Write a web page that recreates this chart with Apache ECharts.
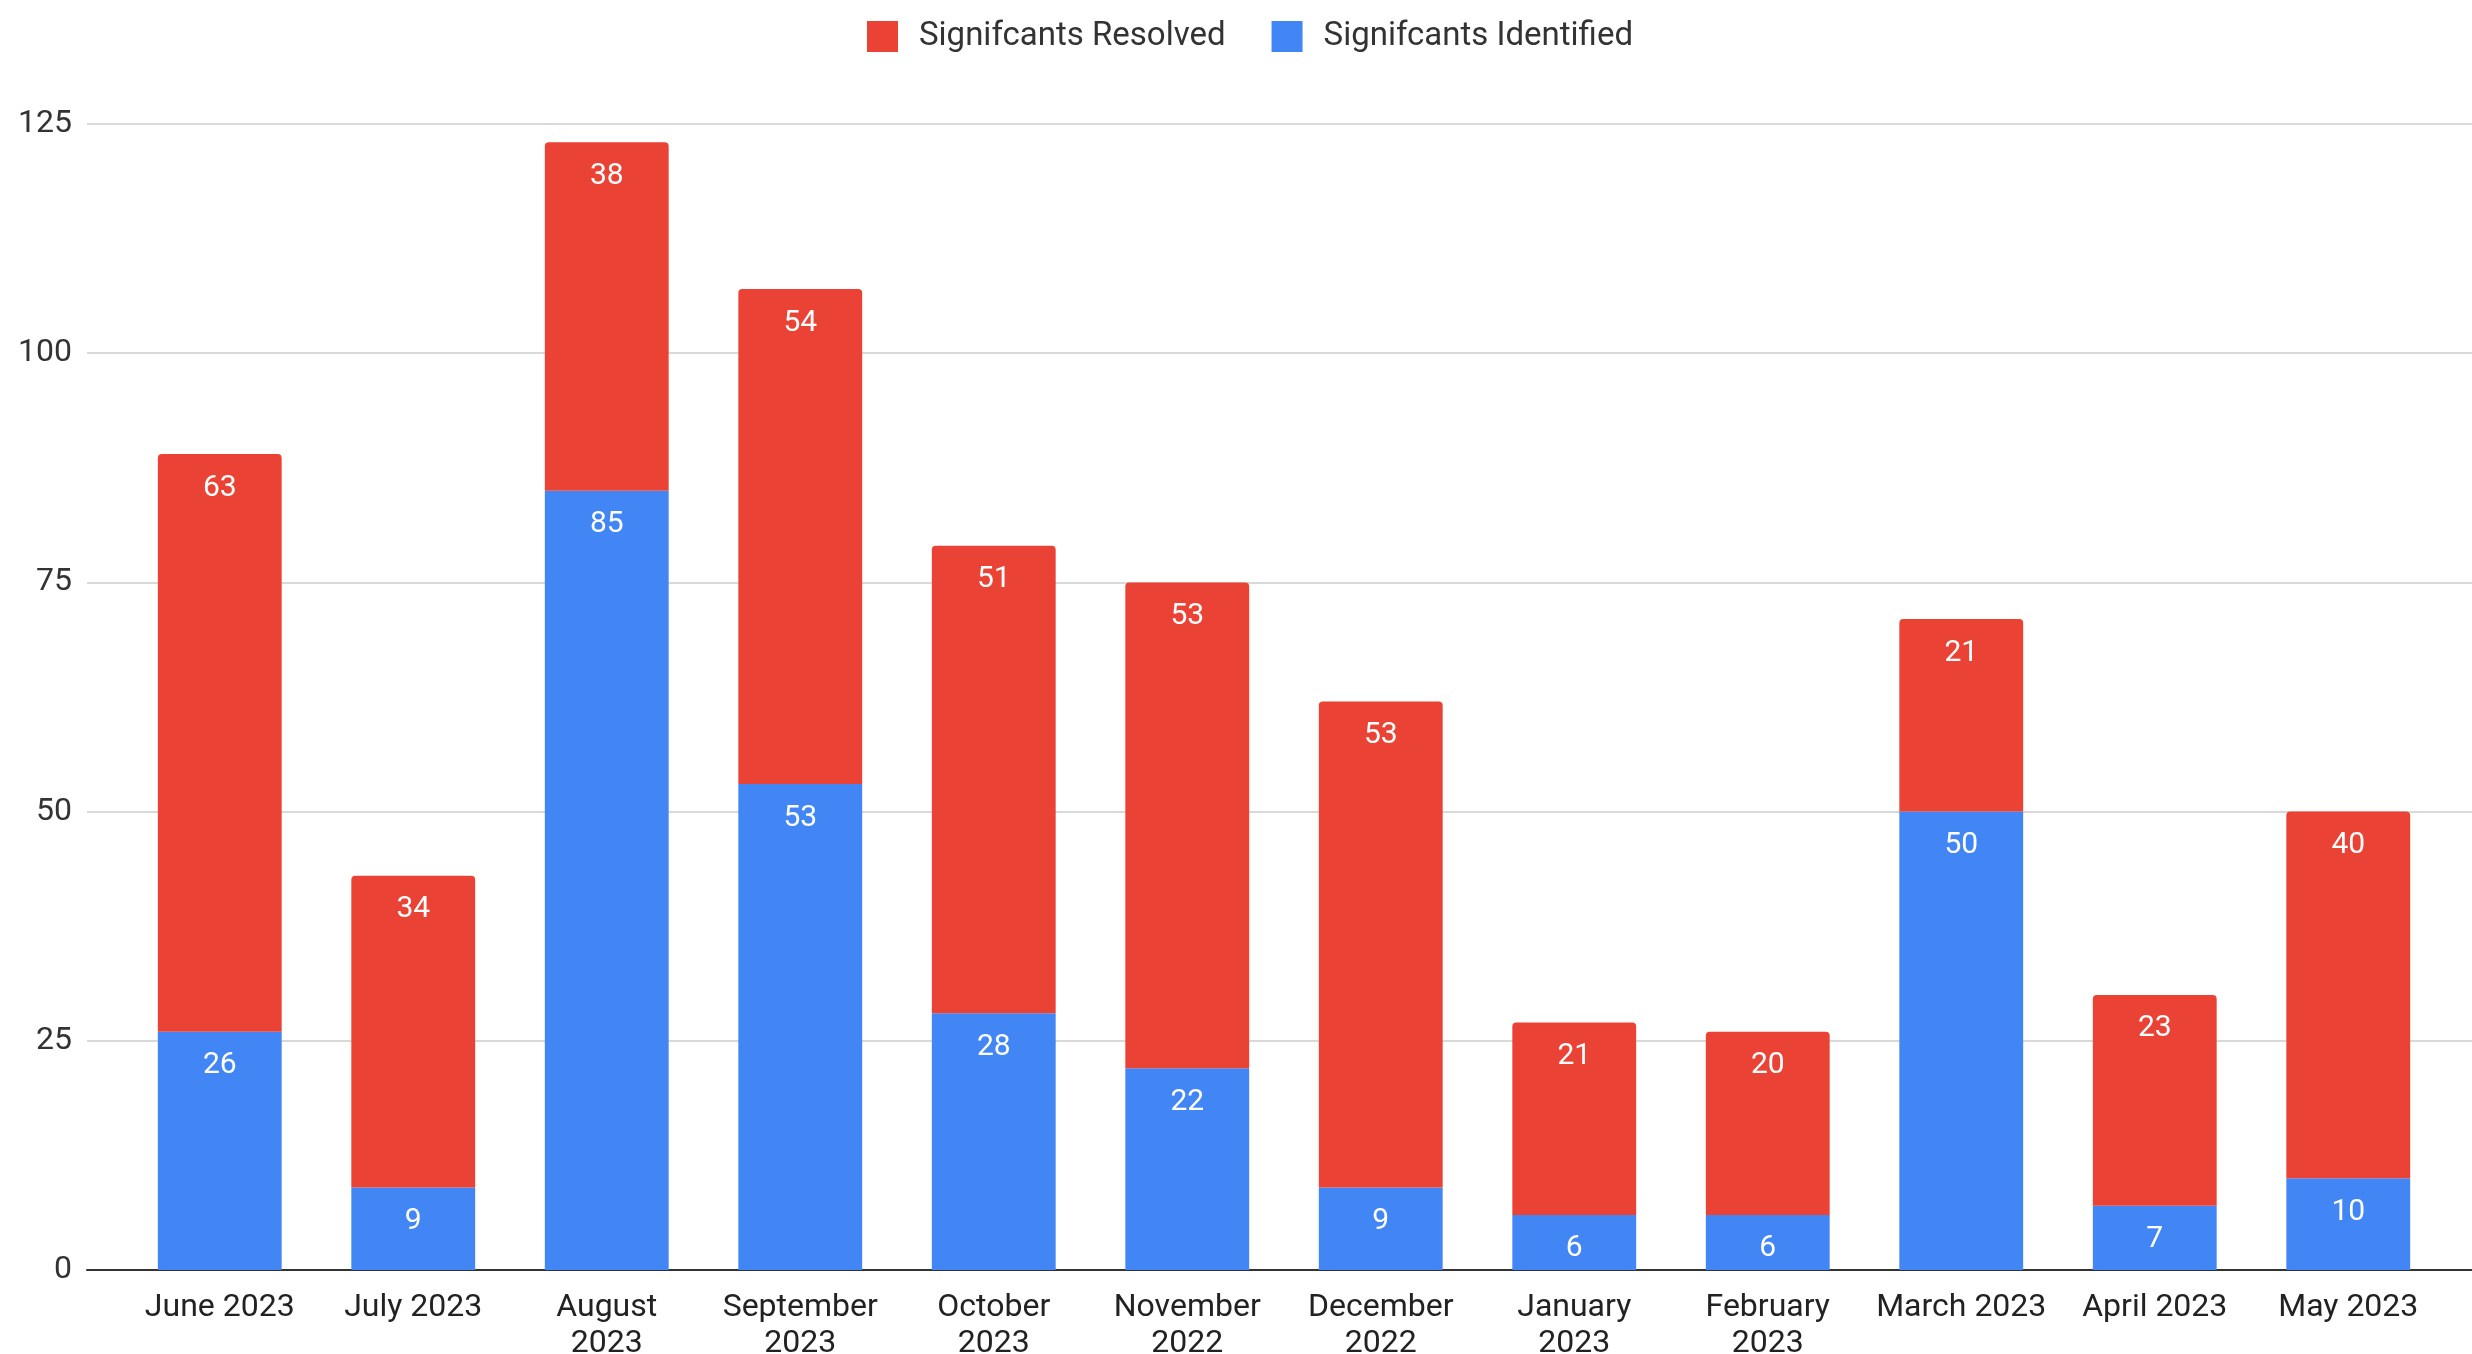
<!DOCTYPE html>
<html>
<head>
<meta charset="utf-8">
<script src="https://cdn.jsdelivr.net/npm/echarts@6/dist/echarts.min.js"></script>
<style>
html, body { margin: 0; padding: 0; background: #fff; }
#container { width: 2472px; height: 1354px; }
</style>
</head>
<body>
<div id="container"></div>
<script>
var dom = document.getElementById("container");
var myChart = echarts.init(dom);

var months = ["June 2023", "July 2023", "August 2023", "September 2023", "October 2023", "November 2022",
	"December 2022", "January 2023", "February 2023", "March 2023", "April 2023", "May 2023"];
var identified = [26, 9, 85, 53, 28, 22, 9, 6, 6, 50, 7, 10];
var resolved = [63, 34, 38, 54, 51, 53, 53, 21, 20, 21, 23, 40];
var yTicks = [0, 25, 50, 75, 100, 125];

var fontName = 'Roboto, Arial, sans-serif';
var labelStyle = {
	show: true,
	position: 'insideTop',
	distance: 19,
	color: '#fff',
	fontSize: 30,
	fontFamily: fontName
};

var option = {
	animation: false,
	legend: {
		top: 15,
		left: 862,
		itemWidth: 31,
		itemHeight: 31,
		itemGap: 46,
		icon: 'rect',
		data: ['Signifcants Resolved', 'Signifcants Identified'],
		textStyle: { fontSize: 33, color: '#333', fontFamily: fontName, padding: [0, 0, 0, 16] }
	},
	grid: [
		{ left: 87, right: 0, top: 124, bottom: 84, outerBoundsMode: 'none', containLabel: false },
		{ left: 123, right: 27, top: 124, bottom: 84, outerBoundsMode: 'none', containLabel: false }
	],
	xAxis: [{
		type: 'value',
		gridIndex: 0,
		min: 0,
		max: 1,
		axisLabel: { show: false },
		axisTick: { show: false },
		splitLine: { show: false },
		axisLine: { show: true, lineStyle: { color: '#333', width: 2 } }
	}, {
		type: 'category',
		gridIndex: 1,
		data: months,
		axisLine: { show: false },
		axisTick: { show: false },
		axisLabel: {
			interval: 0,
			margin: 20,
			fontSize: 32,
			lineHeight: 36,
			color: '#222',
			fontFamily: fontName,
			formatter: function (v) {
				return v.length > 10 ? v.replace(' ', '\n') : v;
			}
		}
	}],
	yAxis: [{
		type: 'value',
		gridIndex: 0,
		min: yTicks[0],
		max: yTicks[yTicks.length - 1],
		interval: 25,
		axisLine: { show: false },
		axisTick: { show: false },
		axisLabel: { margin: 15, fontSize: 32, color: '#333', fontFamily: fontName },
		splitLine: { lineStyle: { color: '#cccccc', width: 1.5 } }
	}, {
		type: 'value',
		gridIndex: 1,
		min: 0,
		max: 125,
		show: false
	}],
	series: [{
		name: 'Signifcants Identified',
		type: 'bar',
		xAxisIndex: 1,
		yAxisIndex: 1,
		stack: 'total',
		barWidth: '64%',
		itemStyle: { color: '#4285F4' },
		label: labelStyle,
		data: identified
	}, {
		name: 'Signifcants Resolved',
		type: 'bar',
		xAxisIndex: 1,
		yAxisIndex: 1,
		stack: 'total',
		barWidth: '64%',
		itemStyle: { color: '#EA4335', borderRadius: [4, 4, 0, 0] },
		label: labelStyle,
		data: resolved
	}]
};

myChart.setOption(option);
</script>
</body>
</html>
